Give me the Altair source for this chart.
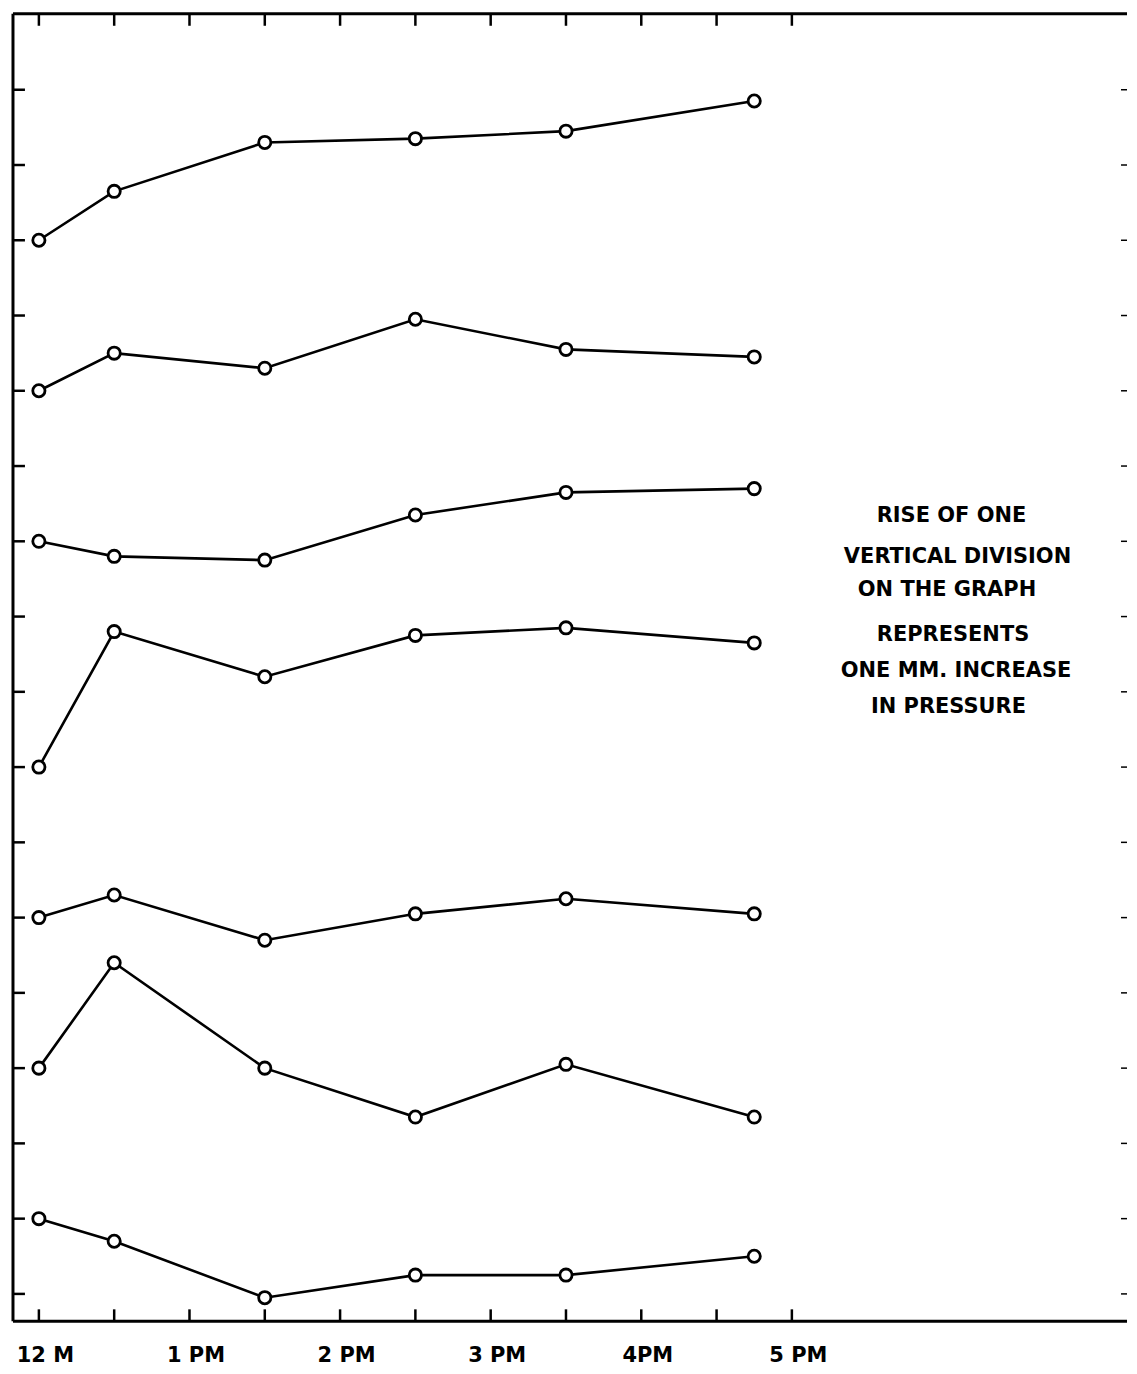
import json
import altair as alt
import pandas as pd

# ---------------- data ----------------
times = [0, 0.5, 1.5, 2.5, 3.5, 4.75]          # hours after 12 M
series_1 = [14.0, 14.65, 15.3, 15.35, 15.45, 15.85]
series_2 = [12.0, 12.5, 12.3, 12.95, 12.55, 12.45]
series_3 = [10.0, 9.8, 9.75, 10.35, 10.65, 10.7]
series_4 = [7.0, 8.8, 8.2, 8.75, 8.85, 8.65]
series_5 = [5.0, 5.3, 4.7, 5.05, 5.25, 5.05]
series_6 = [3.0, 4.4, 3.0, 2.35, 3.05, 2.35]
series_7 = [1.0, 0.7, -0.05, 0.25, 0.25, 0.5]

hour_values = [0, 1, 2, 3, 4, 5]
hour_labels = ["12 M", "1 PM", "2 PM", "3 PM", "4PM", "5 PM"]
x_tick_values = [0, 0.5, 1, 1.5, 2, 2.5, 3, 3.5, 4, 4.5, 5]
y_tick_values = list(range(0, 17))

note_lines = ["RISE OF ONE", "VERTICAL DIVISION", "ON THE GRAPH",
              "REPRESENTS", "ONE MM. INCREASE", "IN PRESSURE"]
note_x = [6.06, 6.10, 6.03, 6.07, 6.09, 6.04]
note_y = [10.34, 9.79, 9.35, 8.75, 8.28, 7.80]

# ---------------- tables ----------------
all_series = [series_1, series_2, series_3, series_4, series_5, series_6, series_7]
rows = []
for i, vals in enumerate(all_series):
    for t, v in zip(times, vals):
        rows.append({"series": f"S{i+1}", "time": t, "value": v})
df = pd.DataFrame(rows)
df_notes = pd.DataFrame({"text": note_lines, "x": note_x, "y": note_y})
df_xt = pd.DataFrame({"t": x_tick_values})
df_yt = pd.DataFrame({"v": y_tick_values})
df_one = pd.DataFrame({"k": [0]})

W = 1117
H = 1311
FONT = "DejaVu Sans"

x_scale = alt.Scale(domain=[-0.172, -0.172 + W / 151.0], nice=False, zero=False)
y_scale = alt.Scale(domain=[-0.364, 17.009], nice=False, zero=False)

label_expr = json.dumps(hour_labels) + "[round(datum.value)]"

x_axis = alt.Axis(values=hour_values, labelExpr=label_expr, domain=False, ticks=False,
                  grid=False, title=None, labelFont=FONT, labelFontWeight="bold",
                  labelFontSize=21, labelColor="black", labelPadding=23,
                  labelFlush=False, labelOverlap=False, labelOffset=6)

lines = alt.Chart(df).mark_line(color="black", strokeWidth=2.6).encode(
    x=alt.X("time:Q", scale=x_scale, axis=x_axis),
    y=alt.Y("value:Q", scale=y_scale, axis=None),
    detail="series:N",
)

points = alt.Chart(df).mark_point(shape="circle", filled=False, fill="white",
                                  fillOpacity=1, stroke="black", strokeWidth=2.8,
                                  size=150, opacity=1).encode(
    x=alt.X("time:Q", scale=x_scale),
    y=alt.Y("value:Q", scale=y_scale),
    detail="series:N",
)

notes = alt.Chart(df_notes).mark_text(font=FONT, fontWeight="bold", fontSize=21,
                                      align="center", baseline="middle",
                                      color="black").encode(
    x=alt.X("x:Q", scale=x_scale),
    y=alt.Y("y:Q", scale=y_scale),
    text="text:N",
)

# inward ticks
left_ticks = alt.Chart(df_yt).mark_rule(color="black", strokeWidth=2.5).encode(
    y=alt.Y("v:Q", scale=y_scale), x=alt.value(0), x2=alt.value(12))
right_ticks = alt.Chart(df_yt).mark_rule(color="black", strokeWidth=1.5).encode(
    y=alt.Y("v:Q", scale=y_scale), x=alt.value(W - 6), x2=alt.value(W))
top_ticks = alt.Chart(df_xt).mark_rule(color="black", strokeWidth=2.5).encode(
    x=alt.X("t:Q", scale=x_scale), y=alt.value(0), y2=alt.value(12))
bottom_ticks = alt.Chart(df_xt).mark_rule(color="black", strokeWidth=2.5).encode(
    x=alt.X("t:Q", scale=x_scale), y=alt.value(H - 12), y2=alt.value(H))

# frame (left, top, bottom)
frame_left = alt.Chart(df_one).mark_rule(color="black", strokeWidth=3).encode(
    x=alt.value(0), y=alt.value(0), y2=alt.value(H))
frame_top = alt.Chart(df_one).mark_rule(color="black", strokeWidth=3).encode(
    y=alt.value(0), x=alt.value(0), x2=alt.value(W))
frame_bottom = alt.Chart(df_one).mark_rule(color="black", strokeWidth=3).encode(
    y=alt.value(H), x=alt.value(0), x2=alt.value(W))

chart = alt.layer(
    lines, points, notes, left_ticks, right_ticks, top_ticks, bottom_ticks,
    frame_left, frame_top, frame_bottom,
).properties(
    width=W, height=H,
    padding={"left": 3, "top": 2, "right": 0, "bottom": 0},
    background="white",
).configure_view(stroke=None)

chart.save("out.html", embed_options={"renderer": "svg", "actions": False})
